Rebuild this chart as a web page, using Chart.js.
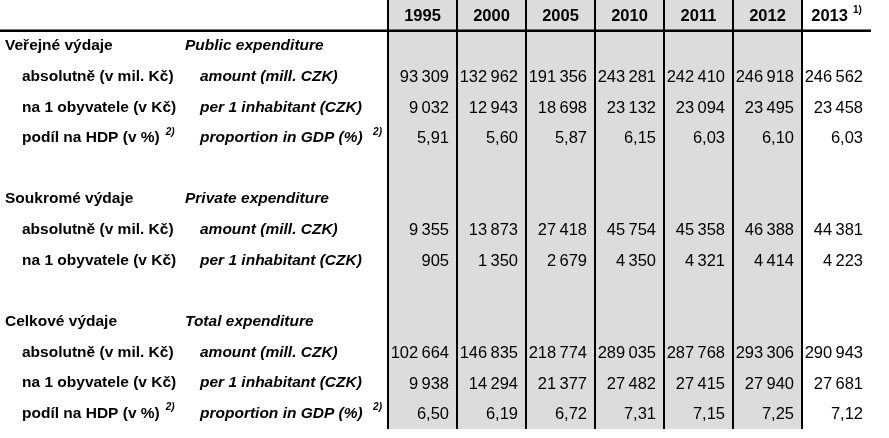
<!DOCTYPE html>
<html>
<head>
<meta charset="utf-8">
<script src="https://cdn.jsdelivr.net/npm/chart.js@4/dist/chart.umd.min.js"></script>
<style>
  html, body { margin: 0; padding: 0; background: #fff; }
  #wrap { width: 889px; height: 438px; position: relative; }
</style>
</head>
<body>
<div id="wrap"><canvas id="table-chart"></canvas></div>
<script>
// ── Data ──
const years     = ['1995', '2000', '2005', '2010', '2011', '2012', '2013']
const yearNotes = ['', '', '', '', '', '', '1)']

const publicAmount     = [93309, 132962, 191356, 243281, 242410, 246918, 246562]
const publicPerCapita  = [9032, 12943, 18698, 23132, 23094, 23495, 23458]
const publicGdp        = [5.91, 5.60, 5.87, 6.15, 6.03, 6.10, 6.03]
const privateAmount    = [9355, 13873, 27418, 45754, 45358, 46388, 44381]
const privatePerCapita = [905, 1350, 2679, 4350, 4321, 4414, 4223]
const totalAmount      = [102664, 146835, 218774, 289035, 287768, 293306, 290943]
const totalPerCapita   = [9938, 14294, 21377, 27482, 27415, 27940, 27681]
const totalGdp         = [6.50, 6.19, 6.72, 7.31, 7.15, 7.25, 7.12]

const rowCz = [
  'Veřejné výdaje', 'absolutně (v mil. Kč)', 'na 1 obyvatele (v Kč)', 'podíl na HDP (v %)', '',
  'Soukromé výdaje', 'absolutně (v mil. Kč)', 'na 1 obyvatele (v Kč)', '',
  'Celkové výdaje', 'absolutně (v mil. Kč)', 'na 1 obyvatele (v Kč)', 'podíl na HDP (v %)'
]
const rowEn = [
  'Public expenditure', 'amount (mill. CZK)', 'per 1 inhabitant (CZK)', 'proportion in GDP (%)', '',
  'Private expenditure', 'amount (mill. CZK)', 'per 1 inhabitant (CZK)', '',
  'Total expenditure', 'amount (mill. CZK)', 'per 1 inhabitant (CZK)', 'proportion in GDP (%)'
]
const rowNotes = ['', '', '', '2)', '', '', '', '', '', '', '', '', '2)']
const rowValues = [
  null, publicAmount, publicPerCapita, publicGdp, null,
  null, privateAmount, privatePerCapita, null,
  null, totalAmount, totalPerCapita, totalGdp
]

// ── Helpers ──
const SANS = "'Liberation Sans', Arial, sans-serif"
const GREY = '#dcdcdc'

// thousands grouped with a thin space, decimal comma
function fmt(v, decimals) {
  const [int, dec] = v.toFixed(decimals).split('.')
  const grouped = int.replace(/\B(?=(\d{3})+(?!\d))/g, '\u2009')
  return dec ? grouped + ',' + dec : grouped
}

// ── Table drawing plugin ──
const tablePlugin = {
  id: 'tablePlugin',
  afterDatasetsDraw(chart) {
    const { ctx, chartArea } = chart
    const xs = chart.scales.x
    const ys = chart.scales.y
    const colW = xs.width / years.length
    const rowH = ys.height / (rowCz.length + 1)
    const bottom = chartArea.bottom

    ctx.save()
    ctx.fillStyle = '#000'
    ctx.textBaseline = 'middle'

    // header
    years.forEach((yr, i) => {
      const cx = xs.getPixelForValue(i)
      const cy = ys.getPixelForValue(0)
      ctx.font = `bold 16.5px ${SANS}`
      const w = ctx.measureText(yr).width
      let nw = 0
      if (yearNotes[i]) {
        ctx.font = `bold 10px ${SANS}`
        nw = ctx.measureText(yearNotes[i]).width + 5
      }
      const left = cx - (w + nw) / 2
      ctx.font = `bold 16.5px ${SANS}`
      ctx.textAlign = 'left'
      ctx.fillText(yr, left, cy + 1)
      if (yearNotes[i]) {
        ctx.font = `bold 10px ${SANS}`
        ctx.fillText(yearNotes[i], left + w + 5, cy - 5)
      }
    })

    // rows
    rowCz.forEach((cz, r) => {
      const cy = ys.getPixelForValue(r + 1)
      const vals = rowValues[r]
      const isGroup = cz && !vals
      const czX = isGroup ? 5 : 22
      const enX = isGroup ? 185 : 200

      ctx.textAlign = 'left'
      ctx.font = `bold 15.5px ${SANS}`
      ctx.fillText(cz, czX, cy)
      const czW = ctx.measureText(cz).width
      ctx.font = `italic bold 15.5px ${SANS}`
      ctx.fillText(rowEn[r], enX, cy)

      if (rowNotes[r]) {
        ctx.font = `italic bold 10px ${SANS}`
        ctx.fillText(rowNotes[r], czX + czW + 6, cy - 6)
        ctx.textAlign = 'right'
        ctx.fillText(rowNotes[r], chartArea.left - 6, cy - 6)
      }

      if (vals) {
        const decimals = vals.some(v => !Number.isInteger(v)) ? 2 : 0
        ctx.font = `16.5px ${SANS}`
        ctx.textAlign = 'right'
        vals.forEach((v, i) => {
          const right = xs.getPixelForValue(i) + colW / 2 - 8
          ctx.fillText(fmt(v, decimals), right, cy + 1)
        })
      }
    })

    // vertical rules
    ctx.strokeStyle = '#000'
    ctx.lineWidth = 2
    years.forEach((yr, i) => {
      const x = Math.round(xs.getPixelForValue(i) - colW / 2)
      ctx.beginPath()
      ctx.moveTo(x, 0)
      ctx.lineTo(x, bottom)
      ctx.stroke()
    })

    // header rule
    const ruleY = ys.getPixelForValue(0) + rowH / 2
    ctx.lineWidth = 2.5
    ctx.beginPath()
    ctx.moveTo(0, ruleY)
    ctx.lineTo(chartArea.right, ruleY)
    ctx.stroke()

    ctx.restore()
  }
}

// ── Chart: grey bars mark the final-data columns ──
new Chart(document.getElementById('table-chart'), {
  type: 'bar',
  data: {
    labels: years,
    datasets: [{
      label: 'final data',
      data: yearNotes.map(n => (n ? null : 1)),
      backgroundColor: GREY,
      borderWidth: 0,
      barPercentage: 1,
      categoryPercentage: 1,
      yAxisID: 'yv',
    }]
  },
  options: {
    responsive: true,
    maintainAspectRatio: false,
    animation: false,
    layout: { padding: { left: 388, right: 18, top: 0, bottom: 9 } },
    plugins: { legend: { display: false }, tooltip: { enabled: false } },
    scales: {
      x: { type: 'category', display: false, offset: true },
      y: { type: 'category', labels: ['header', ...rowCz.map((c, i) => 'r' + i)], display: false, offset: true },
      yv: { type: 'linear', display: false, min: 0, max: 1 }
    }
  },
  plugins: [tablePlugin]
})
</script>
</body>
</html>
